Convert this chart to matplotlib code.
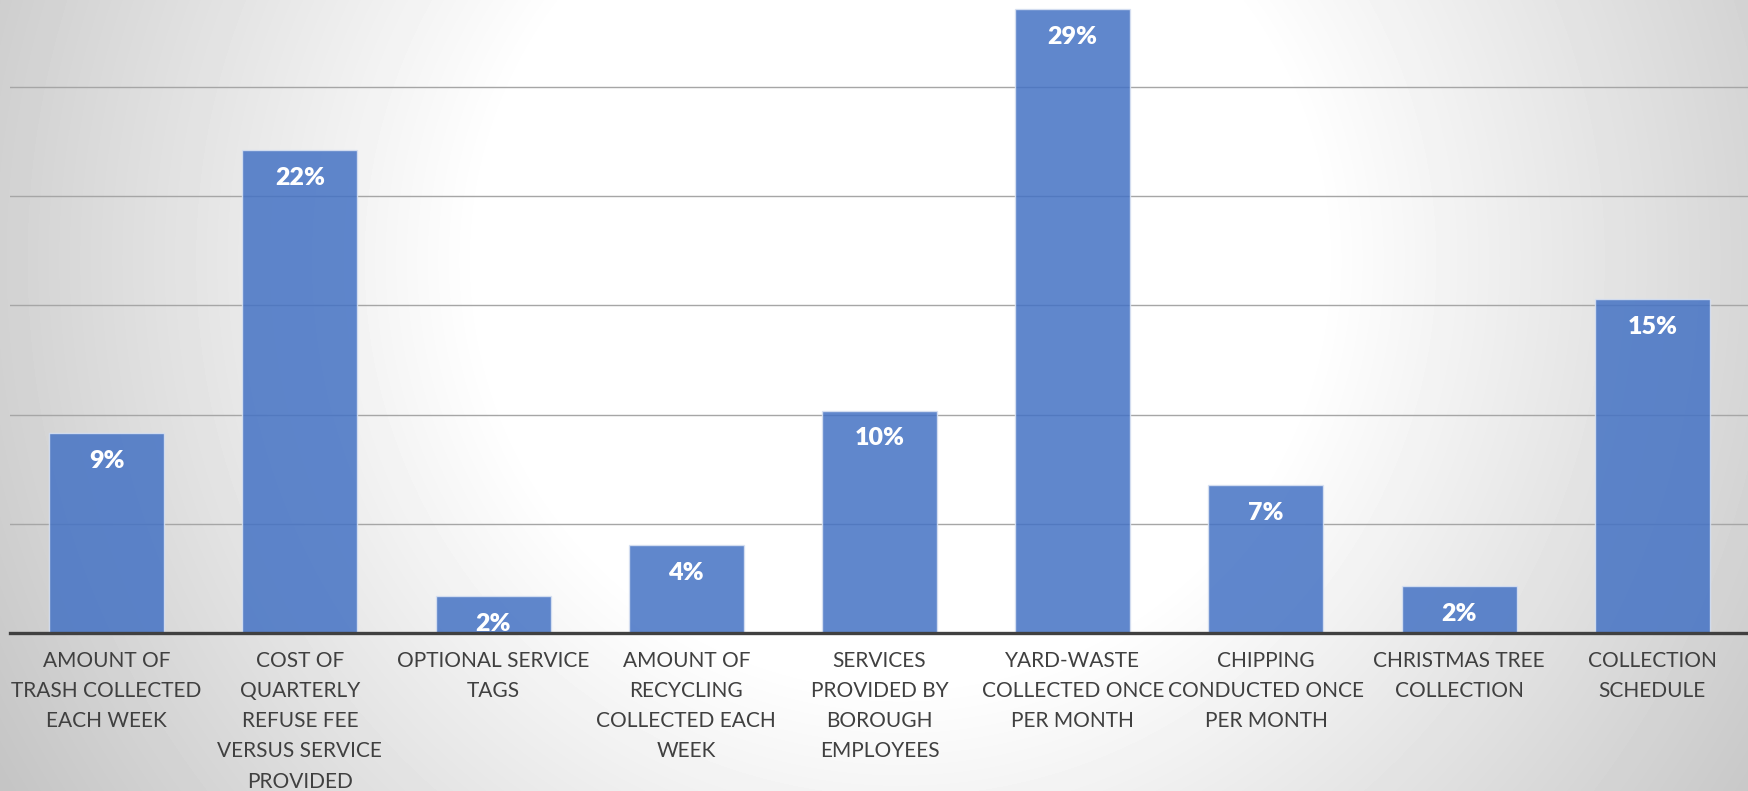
import numpy as np
import matplotlib.pyplot as plt

plt.rcParams['font.family'] = ['Lato', 'DejaVu Sans']

# survey categories and share of responses (%)
categories = [
    "AMOUNT OF\nTRASH COLLECTED\nEACH WEEK",
    "COST OF\nQUARTERLY\nREFUSE FEE\nVERSUS SERVICE\nPROVIDED",
    "OPTIONAL SERVICE\nTAGS",
    "AMOUNT OF\nRECYCLING\nCOLLECTED EACH\nWEEK",
    "SERVICES\nPROVIDED BY\nBOROUGH\nEMPLOYEES",
    "YARD-WASTE\nCOLLECTED ONCE\nPER MONTH",
    "CHIPPING\nCONDUCTED ONCE\nPER MONTH",
    "CHRISTMAS TREE\nCOLLECTION",
    "COLLECTION\nSCHEDULE",
]
shares = [9.15, 22.1, 1.68, 4.02, 10.18, 28.57, 6.77, 2.14, 15.3]
grid_steps = [5, 10, 15, 20, 25]

W, H = 1749, 791
fig = plt.figure(figsize=(W / 100, H / 100), dpi=100)

# radial grey-to-white backdrop
bg = fig.add_axes([0, 0, 1, 1], zorder=0)
yy, xx = np.mgrid[0:H, 0:W]
r = np.hypot(xx - 900, yy - 260)
shade = 1 - np.clip((r - 420) / 620, 0, 1) * 0.23
bg.imshow(shade, cmap='gray', vmin=0, vmax=1, aspect='auto')
bg.axis('off')

base_px = 632.7
ax = fig.add_axes([10 / W, (H - base_px) / H, (W - 10) / W, base_px / H], zorder=1)
ax.patch.set_alpha(0)

x = np.arange(len(categories))
bars = ax.bar(x, shares, width=0.595, color='#4472C4', alpha=0.85,
              edgecolor='#dae3f3', linewidth=1.0, zorder=3)

for xi, v in zip(x, shares):
    ax.annotate(f"{round(v)}%", (xi, v), xytext=(0, -20), textcoords='offset points',
                ha='center', va='center', color='white', fontsize=18,
                fontweight='heavy', zorder=4)

ax.set_xlim(-0.5, len(categories) - 0.5)
ax.set_ylim(0, base_px / 109.1 * 5)
ax.set_yticks(grid_steps)
ax.yaxis.grid(True, color='#a6a6a6', linewidth=1.0, zorder=1)
ax.tick_params(axis='y', left=False, labelleft=False)
ax.set_xticks(x)
ax.set_xticklabels(categories, fontsize=15, color='#404040', linespacing=1.64)
ax.tick_params(axis='x', length=0, pad=13)

for side in ['top', 'left', 'right']:
    ax.spines[side].set_visible(False)
ax.spines['bottom'].set_color('#404040')
ax.spines['bottom'].set_linewidth(2.4)
ax.spines['bottom'].set_zorder(5)

fig.savefig('out.png', dpi=100)
